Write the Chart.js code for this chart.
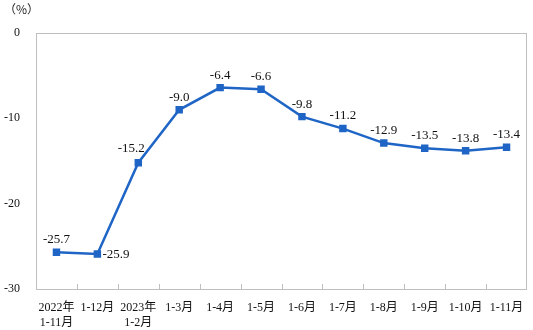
<!DOCTYPE html>
<html>
<head>
<meta charset="utf-8">
<script src="https://cdn.jsdelivr.net/npm/chart.js@4.4.0/dist/chart.umd.min.js"></script>
<style>
  html, body { margin: 0; padding: 0; background: #fff; }
  #wrap { width: 533px; height: 330px; }
</style>
</head>
<body>
<div id="wrap"><canvas id="lineChart" width="533" height="330"></canvas></div>
<script>
const categories = [
  ["2022年", "1-11月"], "1-12月", ["2023年", "1-2月"], "1-3月", "1-4月", "1-5月",
  "1-6月", "1-7月", "1-8月", "1-9月", "1-10月", "1-11月"
];
const growth = [-25.7, -25.9, -15.2, -9.0, -6.4, -6.6, -9.8, -11.2, -12.9, -13.5, -13.8, -13.4];
const yTicks = [0, -10, -20, -30];

const FONT = "'Liberation Serif', 'Times New Roman', 'Noto Sans CJK SC', serif";
const BLUE = "#1f65c6";

const frame = {
  id: "frame",
  afterDraw(chart) {
    const { ctx, chartArea: a, scales } = chart;
    ctx.save();
    ctx.strokeStyle = "#bfbfbf";
    ctx.lineWidth = 1;
    ctx.strokeRect(a.left + 0.5, a.top + 0.5, a.right - a.left - 1, a.bottom - a.top);
    // inward ticks between categories
    const x = scales.x;
    ctx.beginPath();
    for (let i = 1; i < categories.length; i++) {
      const px = Math.round((x.getPixelForValue(i - 1) + x.getPixelForValue(i)) / 2) + 0.5;
      ctx.moveTo(px, a.bottom);
      ctx.lineTo(px, a.bottom - 5);
    }
    ctx.stroke();
    // unit
    ctx.fillStyle = "#222";
    ctx.font = "12px 'Noto Sans CJK SC', sans-serif";
    ctx.textAlign = "left";
    ctx.textBaseline = "middle";
    ctx.fillText("（%）", 4, 9);
    // value labels
    const meta = chart.getDatasetMeta(0);
    ctx.fillStyle = "#111";
    ctx.font = "13px " + FONT;
    meta.data.forEach((pt, i) => {
      const txt = growth[i].toFixed(1);
      if (i === 1) {
        ctx.textAlign = "left";
        ctx.textBaseline = "middle";
        ctx.fillText(txt, pt.x + 5, pt.y + 1);
      } else if (i === 2) {
        ctx.textAlign = "center";
        ctx.textBaseline = "bottom";
        ctx.fillText(txt, pt.x - 7, pt.y - 8);
      } else {
        ctx.textAlign = "center";
        ctx.textBaseline = "bottom";
        ctx.fillText(txt, pt.x, pt.y - 6);
      }
    });
    ctx.restore();
  }
};

new Chart(document.getElementById("lineChart").getContext("2d"), {
  type: "line",
  data: {
    labels: categories,
    datasets: [{
      data: growth,
      borderColor: BLUE,
      backgroundColor: BLUE,
      borderWidth: 2.5,
      pointStyle: "rect",
      pointRadius: 3.5,
      pointHoverRadius: 3.5,
      tension: 0
    }]
  },
  options: {
    responsive: false,
    animation: false,
    layout: { padding: { top: 33, right: 5, left: 0, bottom: 0 } },
    plugins: { legend: { display: false }, tooltip: { enabled: false } },
    scales: {
      x: {
        offset: true,
        grid: { display: false },
        border: { display: false },
        ticks: {
          color: "#111",
          font: { family: FONT, size: 12 },
          maxRotation: 0,
          autoSkip: false,
          padding: 4
        },
        afterFit(scale) { scale.height = 41; }
      },
      y: {
        min: -30,
        max: 0,
        afterBuildTicks(scale) { scale.ticks = yTicks.map(v => ({ value: v })); },
        grid: { display: false },
        border: { display: false },
        ticks: {
          color: "#111",
          font: { family: FONT, size: 12 },
          padding: 8
        },
        afterFit(scale) { scale.width = 36; }
      }
    }
  },
  plugins: [frame]
});
</script>
</body>
</html>
